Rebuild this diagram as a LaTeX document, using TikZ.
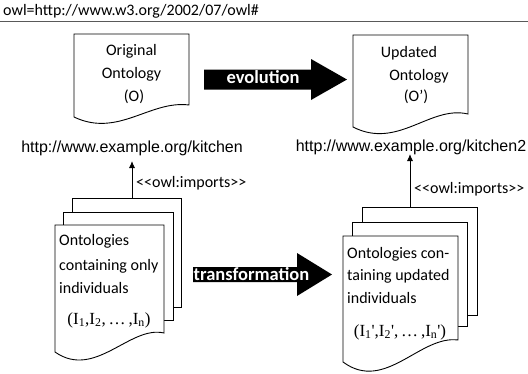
\documentclass[tikz,border=0pt]{standalone}
\usepackage{fontspec}
\setmainfont{Carlito}
\newfontfamily\urlfont{Liberation Sans}
\newfontfamily\idxfont{Liberation Serif}
\usetikzlibrary{arrows.meta}

\tikzset{
  txt/.style={font=\fontsize{16}{19}\selectfont, anchor=base, inner sep=0pt},
  lefttxt/.style={txt, anchor=base west},
  urltxt/.style={font=\urlfont\fontsize{16}{19}\selectfont, anchor=base, inner sep=0pt},
  bigtxt/.style={font=\bfseries\fontsize{18.5}{22}\selectfont, text=white, anchor=base, inner sep=0pt},
  idxtxt/.style={font=\idxfont\fontsize{17}{20}\selectfont, anchor=base, inner sep=0pt},
  docline/.style={draw=black, line width=0.9pt, line join=miter, fill=white},
  pageline/.style={draw=black, line width=0.9pt, line join=miter},
  bigarrow/.style={fill=black},
  imp/.style={-{Latex[length=7pt,width=6pt]}, line width=0.9pt},
  rule/.style={draw=black!65, line width=0.9pt},
}

\begin{document}
\begin{tikzpicture}[x=1pt,y=-1pt]
  \useasboundingbox (0,0) rectangle (528,373);

  % namespace header
  \node[txt, anchor=base west] (ns) at (3,15) {owl=http://www.w3.org/2002/07/owl\#};
  \coordinate (ruleL) at (0,21);
  \coordinate (ruleR) at (528,21);
  \draw[rule] (ruleL) -- (ruleR);

  % original ontology document
  \draw[docline] (74,34) -- (189,34) -- (189,105)
    .. controls (150,100) and (118,138) .. (74,117) -- cycle;
  \node[txt] (origA) at (131.5,55.5) {Original};
  \node[txt] (origB) at (131.5,78.5) {Ontology};
  \node[txt] (origC) at (134,101) {(O)};

  % updated ontology document
  \draw[docline] (353,35) -- (468,35) -- (468,114)
    .. controls (430,105) and (398,150) .. (353,127) -- cycle;
  \node[txt] (updA) at (409,57.5) {Updated};
  \node[txt] (updB) at (419,80.5) {Ontology};
  \node[txt] (updC) at (416,101) {(O’)};

  % evolution arrow
  \fill[bigarrow] (204,69.5) -- (311,69.5) -- (311,59) -- (347,79.5)
    -- (311,100) -- (311,89.5) -- (204,89.5) -- cycle;
  \node[bigtxt] (evo) at (263,83.3) {evolution};

  % ontology URLs
  \node[urltxt] (urlL) at (132,152) {http://www.example.org/kitchen};
  \node[urltxt] (urlR) at (411,151) {http://www.example.org/kitchen2};

  % left stack of individual ontologies
  \draw[pageline] (72,212) -- (72,198) -- (181,198) -- (181,307) -- (173,307);
  \draw[pageline] (63,225) -- (63,212) -- (173,212) -- (173,320) -- (164,320);
  \draw[docline] (55,225) -- (164,225) -- (164,333)
    .. controls (130,325) and (95,380) .. (55,352) -- cycle;
  \node[lefttxt] (indA) at (59,245.5) {Ontologies};
  \node[lefttxt] (indB) at (59,270.5) {containing only};
  \node[lefttxt] (indC) at (59,293.5) {individuals};
  \node[idxtxt] (indD) at (109,324)
    {(I\textsubscript{1},I\textsubscript{2},\,…\,,I\textsubscript{n})};

  % right stack of updated individual ontologies
  \draw[pageline] (362,222) -- (362,207) -- (477,207) -- (477,315) -- (467,315);
  \draw[pageline] (352,236) -- (352,222) -- (467,222) -- (467,326) -- (458,326);
  \draw[docline] (343,236) -- (458,236) -- (458,340)
    .. controls (420,335) and (385,393) .. (343,362) -- cycle;
  \node[lefttxt] (newA) at (347,258) {Ontologies con-};
  \node[lefttxt] (newB) at (347,280) {taining updated};
  \node[lefttxt] (newC) at (347,303.5) {individuals};
  \node[idxtxt] (newD) at (400,336)
    {(I\textsubscript{1}\textquotesingle,I\textsubscript{2}\textquotesingle,\,…\,,I\textsubscript{n}\textquotesingle)};

  % transformation arrow
  \fill[bigarrow] (193,267) -- (297,267) -- (297,253) -- (332,274.5)
    -- (297,296) -- (297,282) -- (193,282) -- cycle;
  \node[bigtxt] (trans) at (251.5,280) {transformation};

  % owl:imports links
  \coordinate (impLfrom) at (132,198);
  \coordinate (impLto) at (132,161);
  \draw[imp] (impLfrom) -- (impLto);
  \node[txt, anchor=base west] (impL) at (136,187.5) {<{}<owl:imports>{}>};

  \coordinate (impRfrom) at (410,207);
  \coordinate (impRto) at (410,154);
  \draw[imp] (impRfrom) -- (impRto);
  \node[txt, anchor=base west] (impR) at (414,193.5) {<{}<owl:imports>{}>};
\end{tikzpicture}
\end{document}
